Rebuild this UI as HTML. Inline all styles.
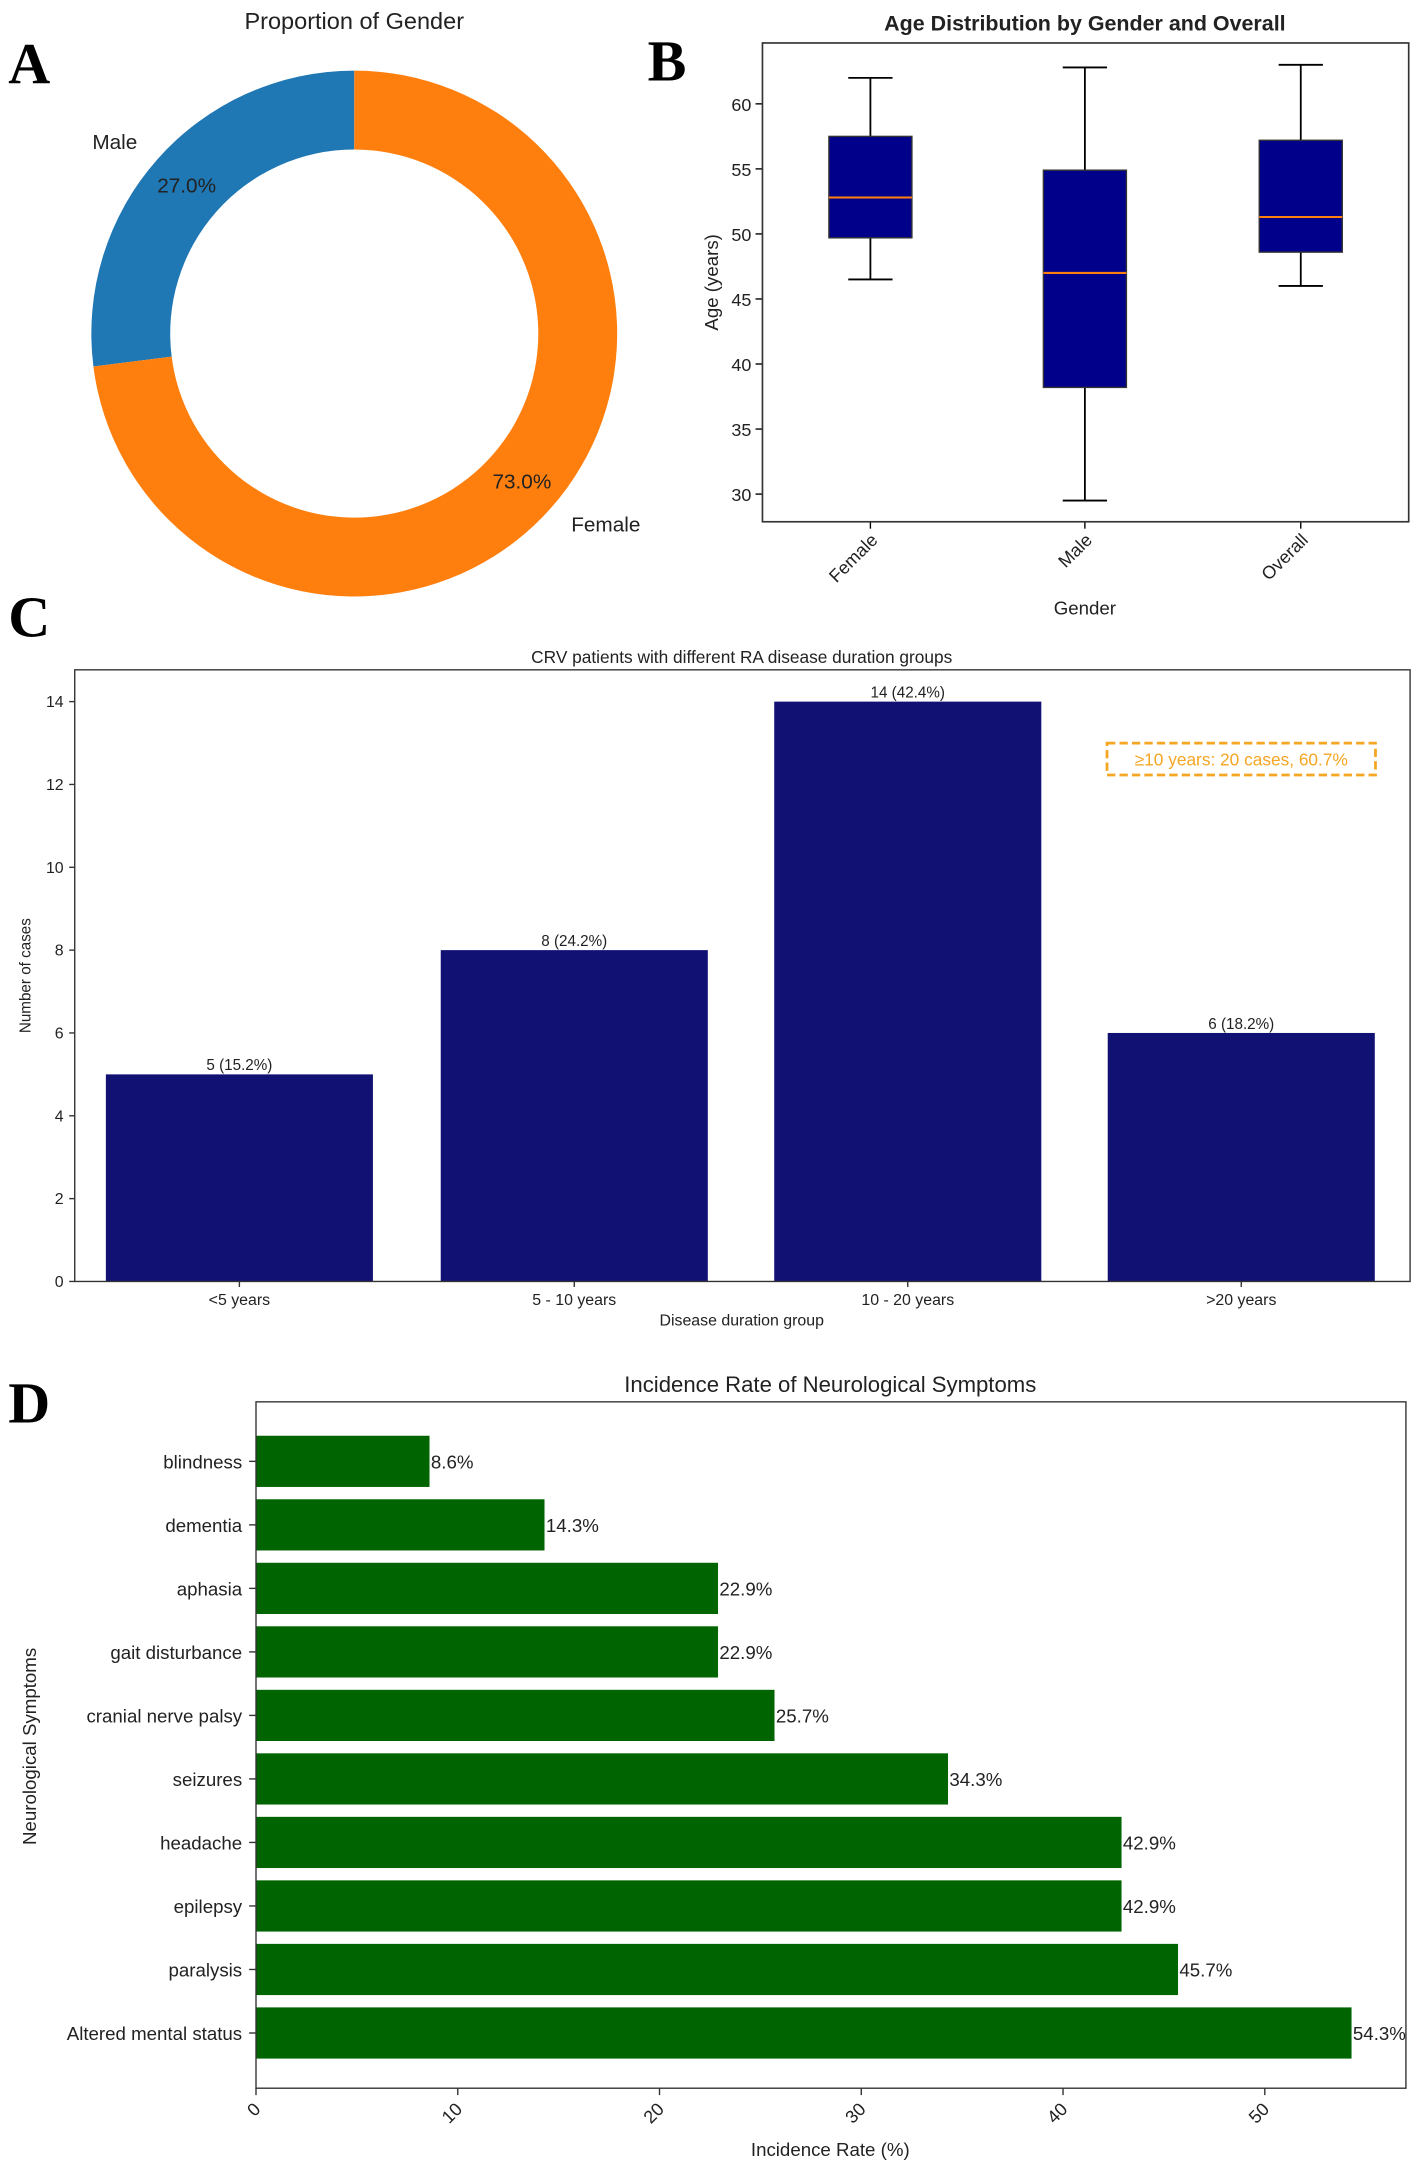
<!DOCTYPE html>
<html><head><meta charset="utf-8"><style>
html,body{margin:0;padding:0;background:#fff}
svg{display:block}
text{font-family:"Liberation Sans",sans-serif;fill:#222}
.L{font-family:"Liberation Serif",serif;font-weight:bold;font-size:42px;fill:#000}
</style></head><body>
<svg id="s" width="1417" height="2163" viewBox="0 0 1024 1563" xmlns="http://www.w3.org/2000/svg">
<text class="L" x="6" y="60">A</text>
<text class="L" x="468" y="58">B</text>
<text class="L" x="6" y="460">C</text>
<text class="L" x="6" y="1028">D</text>
<g id="A"></g><g id="B"></g><g id="C"></g><g id="D"></g>
</svg>
<script>
const NS="http://www.w3.org/2000/svg";
function mk(p,t,a,txt){const e=document.createElementNS(NS,t);for(const k in a)e.setAttribute(k,a[k]);if(txt!=null)e.textContent=txt;p.appendChild(e);return e;}
// ---- Panel A data
const genderLabels=["Male","Female"];
const genderPct=[27.0,73.0];
// ---- Panel B data
const boxCats=["Female","Male","Overall"];
const boxMin=[46.5,29.5,46.0];
const boxQ1=[49.7,38.2,48.6];
const boxMed=[52.8,47.0,51.3];
const boxQ3=[57.5,54.9,57.2];
const boxMax=[62.0,62.8,63.0];
const ageTicks=[30,35,40,45,50,55,60];
// ---- Panel C data
const durCats=["<5 years","5 - 10 years","10 - 20 years",">20 years"];
const durCounts=[5,8,14,6];
const durLabels=["5 (15.2%)","8 (24.2%)","14 (42.4%)","6 (18.2%)"];
const countTicks=[0,2,4,6,8,10,12,14];
// ---- Panel D data
const symptoms=["blindness","dementia","aphasia","gait disturbance","cranial nerve palsy","seizures","headache","epilepsy","paralysis","Altered mental status"];
const rates=[8.6,14.3,22.9,22.9,25.7,34.3,42.9,42.9,45.7,54.3];
const rateTicks=[0,10,20,30,40,50];

// Panel A
(function(){
const g=document.getElementById('A');
let t=mk(g,'text',{x:256,y:21,'text-anchor':'middle','font-size':17});
t.textContent="Proportion of Gender";
const cx=256,cy=241,R=190,r=133;const cols=["#1f77b4","#ff7f0e"];
let start=90;
genderPct.forEach((p,i)=>{
 const sweep=p/100*360,a0=start*Math.PI/180,a1=(start+sweep)*Math.PI/180;
 const P=(rad,a)=>[cx+rad*Math.cos(a),cy-rad*Math.sin(a)];
 const [x0,y0]=P(R,a0),[x1,y1]=P(R,a1),[x2,y2]=P(r,a1),[x3,y3]=P(r,a0);
 const lg=sweep>180?1:0;
 const s=mk(g,'path',{d:`M${x0},${y0}A${R},${R} 0 ${lg} 0 ${x1},${y1}L${x2},${y2}A${r},${r} 0 ${lg} 1 ${x3},${y3}Z`,fill:cols[i]});
 
 const mid=(start+sweep/2)*Math.PI/180;
 const [lx,ly]=P(R*1.1,mid),[px,py]=P(R*0.85,mid);
 const tl=mk(g,'text',{x:lx,y:ly+5,'text-anchor':Math.cos(mid)<0?'end':'start','font-size':15},genderLabels[i]);
 
 const tp=mk(g,'text',{x:px,y:py+5,'text-anchor':'middle','font-size':15},p.toFixed(1)+"%");
 
 start+=sweep;
});
})();

// Panel B
(function(){
const g=document.getElementById('B');
const L=551,Rr=1018,T=31,Bm=377;
const y=v=>75+(60-v)*9.4;const xs=[629,784,940];const w=62;
let t=mk(g,'text',{x:784,y:22,'text-anchor':'middle','font-size':15.5,'font-weight':'bold'},"Age Distribution by Gender and Overall");

ageTicks.forEach(v=>{mk(g,'line',{x1:L-5,x2:L,y1:y(v),y2:y(v),stroke:'#000'});
 const tt=mk(g,'text',{x:L-8,y:y(v)+5,'text-anchor':'end','font-size':13},String(v));
 });
boxCats.forEach((c,i)=>{const x=xs[i];
 mk(g,'line',{x1:x,x2:x,y1:y(boxMax[i]),y2:y(boxQ3[i]),stroke:'#000','stroke-width':1.3});
 mk(g,'line',{x1:x,x2:x,y1:y(boxQ1[i]),y2:y(boxMin[i]),stroke:'#000','stroke-width':1.3});
 mk(g,'line',{x1:x-16,x2:x+16,y1:y(boxMax[i]),y2:y(boxMax[i]),stroke:'#000','stroke-width':1.3});
 mk(g,'line',{x1:x-16,x2:x+16,y1:y(boxMin[i]),y2:y(boxMin[i]),stroke:'#000','stroke-width':1.3});
 const b=mk(g,'rect',{x:x-w/2+1,y:y(boxQ3[i]),width:w-2,height:y(boxQ1[i])-y(boxQ3[i]),fill:'#00008b',stroke:'#333'});
 
 mk(g,'line',{x1:x-w/2+1,x2:x+w/2-1,y1:y(boxMed[i]),y2:y(boxMed[i]),stroke:'#ff7f0e','stroke-width':1.5});
 mk(g,'line',{x1:x,x2:x,y1:Bm,y2:Bm+5,stroke:'#000'});
 const tl=mk(g,'text',{x:x+6,y:Bm+14,'text-anchor':'end','font-size':13,transform:`rotate(-45 ${x+6} ${Bm+14})`},c);
 });
mk(g,'rect',{x:L,y:T,width:Rr-L,height:Bm-T,fill:'none',stroke:'#333','stroke-width':1.2});
let xl=mk(g,'text',{x:784,y:444,'text-anchor':'middle','font-size':13.5},"Gender");
let yl=mk(g,'text',{x:519,y:204,'text-anchor':'middle','font-size':13.5,transform:'rotate(-90 519 204)'},"Age (years)");
})();

// Panel C
(function(){
const g=document.getElementById('C');
const L=54,Rr=1019,T=484,Bm=926;
const y=v=>Bm-v*29.93;const xs=[173,415,656,897];const w=193;
let t=mk(g,'text',{x:536,y:479,'text-anchor':'middle','font-size':12.5},"CRV patients with different RA disease duration groups");

countTicks.forEach(v=>{mk(g,'line',{x1:L-4,x2:L,y1:y(v),y2:y(v),stroke:'#333'});
 const tt=mk(g,'text',{x:L-8,y:y(v)+4,'text-anchor':'end','font-size':11.5},String(v));
 });
durCats.forEach((c,i)=>{const x=xs[i];
 const b=mk(g,'rect',{x:x-w/2,y:y(durCounts[i]),width:w,height:Bm-y(durCounts[i]),fill:'#111174'});
 
 const vl=mk(g,'text',{x:x,y:y(durCounts[i])-3,'text-anchor':'middle','font-size':11},durLabels[i]);
 
 mk(g,'line',{x1:x,x2:x,y1:Bm,y2:Bm+4,stroke:'#333'});
 const tl=mk(g,'text',{x:x,y:943,'text-anchor':'middle','font-size':11.5},c);
 });
mk(g,'rect',{x:L,y:T,width:Rr-L,height:Bm-T,fill:'none',stroke:'#333','stroke-width':1});
let a=mk(g,'rect',{x:800,y:537,width:194,height:23,fill:'none',stroke:'#f5a623','stroke-width':2,'stroke-dasharray':'6,3'});

let at=mk(g,'text',{x:897,y:553,'text-anchor':'middle','font-size':12.5,fill:'#f5a623',style:'fill:#f5a623'},"≥10 years: 20 cases, 60.7%");

let xl=mk(g,'text',{x:536,y:958,'text-anchor':'middle','font-size':11.5},"Disease duration group");
let yl=mk(g,'text',{x:22,y:705,'text-anchor':'middle','font-size':11,transform:'rotate(-90 22 705)'},"Number of cases");
})();

// Panel D
(function(){
const g=document.getElementById('D');
const L=185,Rr=1016,T=1013,Bm=1509;
const x=v=>L+v*14.58;const yc=i=>1056+i*45.9;const h=37;
let t=mk(g,'text',{x:600,y:1006,'text-anchor':'middle','font-size':16},"Incidence Rate of Neurological Symptoms");

symptoms.forEach((s,i)=>{
 const b=mk(g,'rect',{x:L,y:yc(i)-h/2,width:x(rates[i])-L,height:h,fill:'#006400'});
 
 const vl=mk(g,'text',{x:x(rates[i])+1,y:yc(i)+5,'font-size':13.5},rates[i].toFixed(1)+"%");
 
 mk(g,'line',{x1:L-5,x2:L,y1:yc(i),y2:yc(i),stroke:'#333'});
 const tl=mk(g,'text',{x:L-10,y:yc(i)+5,'text-anchor':'end','font-size':13.5},s);
 });
rateTicks.forEach(v=>{mk(g,'line',{x1:x(v),x2:x(v),y1:Bm,y2:Bm+5,stroke:'#333'});
 const tt=mk(g,'text',{x:x(v)+4,y:Bm+16,'text-anchor':'end','font-size':13,transform:`rotate(-45 ${x(v)+4} ${Bm+16})`},String(v));
 });
mk(g,'rect',{x:L,y:T,width:Rr-L,height:Bm-T,fill:'none',stroke:'#333','stroke-width':1});
let xl=mk(g,'text',{x:600,y:1558,'text-anchor':'middle','font-size':13.5},"Incidence Rate (%)");
let yl=mk(g,'text',{x:26,y:1262,'text-anchor':'middle','font-size':13.5,transform:'rotate(-90 26 1262)'},"Neurological Symptoms");
})();
</script>
</body></html>
